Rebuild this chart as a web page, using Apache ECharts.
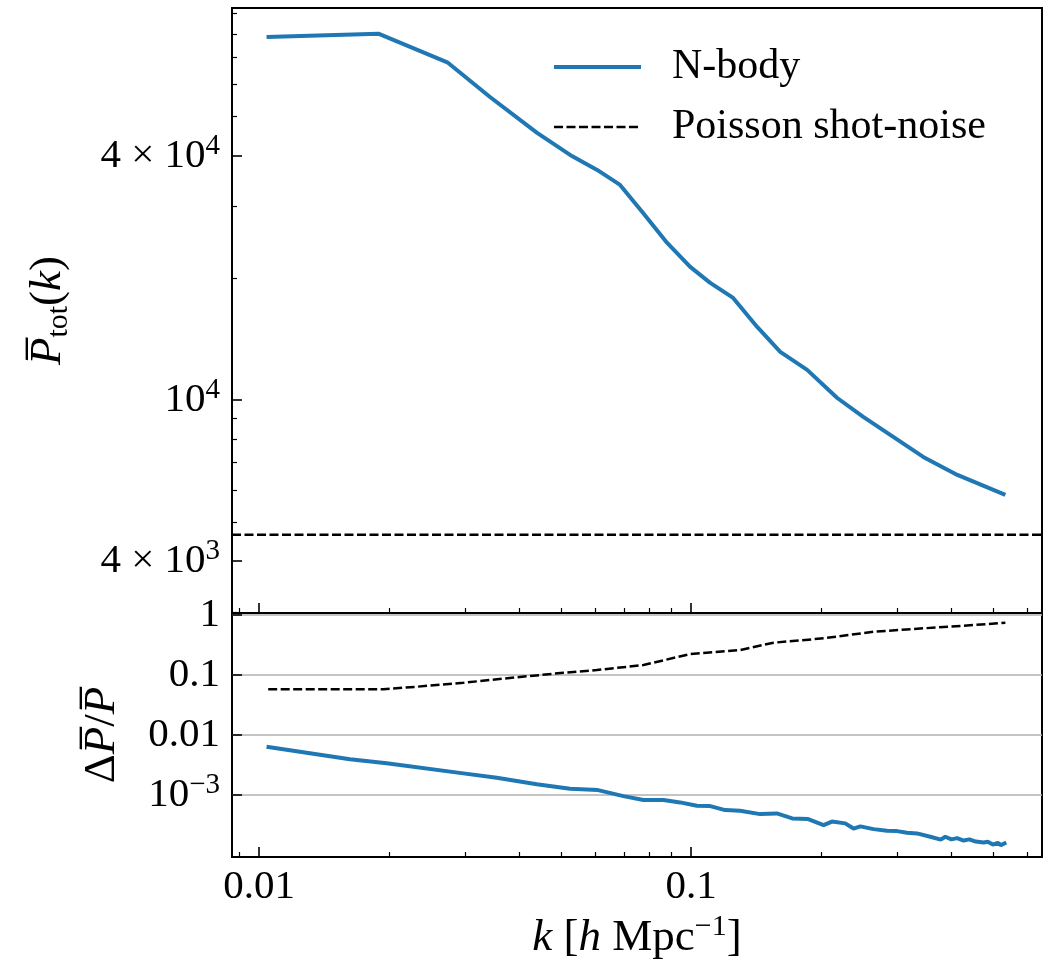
<!DOCTYPE html>
<html>
<head>
<meta charset="utf-8">
<script src="https://cdn.jsdelivr.net/npm/echarts@6/dist/echarts.min.js"></script>
<style>html,body{margin:0;padding:0;background:#fff}#c{width:1055px;height:965px}</style>
</head>
<body>
<div id="c"></div>
<script>
// ---- data ----
const kTop = [0.0104, 0.01887, 0.02726, 0.03422, 0.04399, 0.05245, 0.06058, 0.06846, 0.07741, 0.0880, 0.0995, 0.1107, 0.1251, 0.1422, 0.1608, 0.1856, 0.2179, 0.2503, 0.289, 0.3446, 0.4133, 0.5339];
const pTop = [78600, 80100, 68100, 55900, 45600, 40220, 36940, 33930, 28930, 24400, 21290, 19440, 17850, 15140, 13140, 11860, 10110, 9080, 8195, 7234, 6531, 5830];
const shotLevel = 4650;

const kRelNbody = [0.0104, 0.01622, 0.01973, 0.02969, 0.03548, 0.04391, 0.05245, 0.06088, 0.06969, 0.07754, 0.08627, 0.0943, 0.1031, 0.1107, 0.1199, 0.1298, 0.1445, 0.1579, 0.1714, 0.1866, 0.2026, 0.2118, 0.2274, 0.2376, 0.2464, 0.2644, 0.2841, 0.2996, 0.3161, 0.3333, 0.3578, 0.3784, 0.3876, 0.4003, 0.4126, 0.4274, 0.4406, 0.456, 0.4754, 0.4862, 0.4993, 0.5129, 0.5212, 0.5367];
const relNbody = [6.38e-3, 3.94e-3, 3.38e-3, 2.30e-3, 1.94e-3, 1.51e-3, 1.27e-3, 1.21e-3, 9.62e-4, 8.26e-4, 8.26e-4, 7.55e-4, 6.63e-4, 6.56e-4, 5.62e-4, 5.47e-4, 4.82e-4, 4.95e-4, 4.09e-4, 3.98e-4, 3.16e-4, 3.62e-4, 3.38e-4, 2.77e-4, 3.01e-4, 2.71e-4, 2.54e-4, 2.51e-4, 2.35e-4, 2.30e-4, 2.02e-4, 1.81e-4, 2.02e-4, 1.83e-4, 1.92e-4, 1.75e-4, 1.83e-4, 1.68e-4, 1.62e-4, 1.67e-4, 1.50e-4, 1.60e-4, 1.47e-4, 1.62e-4];

const kRelShot = [0.01049, 0.01937, 0.02315, 0.02969, 0.03947, 0.05061, 0.06046, 0.07754, 0.0995, 0.1298, 0.1551, 0.2026, 0.2644, 0.3452, 0.4508, 0.5339];
const relShot = [0.0578, 0.0578, 0.0638, 0.0744, 0.0916, 0.1092, 0.1211, 0.1468, 0.2239, 0.2610, 0.3455, 0.4090, 0.5270, 0.6000, 0.6813, 0.7443];

// axis ranges and ticks
const xRange = [0.00865, 0.649];
const yTopRange = [2980, 92700];
const yBotRange = [9.3e-5, 1.08];
const xMajor = [0.01, 0.1];
const xMinor = [0.009, 0.02, 0.03, 0.04, 0.05, 0.06, 0.07, 0.08, 0.09, 0.2, 0.3, 0.4, 0.5, 0.6];
const xLabels = ['0.01', '0.1'];
const yTopMajor = [4000, 10000, 40000];
const yTopMinor = [3000, 5000, 6000, 7000, 8000, 9000, 20000, 30000, 50000, 60000, 70000, 80000, 90000];
const yTopLabels = ['{a|4 × 10}{s|3}', '{a|10}{s|4}', '{a|4 × 10}{s|4}'];
const yBotMajor = [1, 0.1, 0.01, 0.001];
const yBotLabels = ['{a|1}', '{a|0.1}', '{a|0.01}', '{a|10}{s|−3}'];

const FONT = 'Liberation Serif';
const BLUE = '#1f77b4';
const DASH = [9, 3.5];

function pickLabel(ticks, labels) {
  return function (v) {
    for (let i = 0; i < ticks.length; i++) {
      if (Math.abs(Math.log10(v) - Math.log10(ticks[i])) < 1e-6) return labels[i];
    }
    return '';
  };
}

const labelRich = {
  a: { fontFamily: FONT, fontSize: 41, color: '#000', lineHeight: 48 },
  s: { fontFamily: FONT, fontSize: 29, color: '#000', lineHeight: 26, verticalAlign: 'top' }
};
const titleRich = {
  i: { fontFamily: FONT, fontStyle: 'italic', fontSize: 45, color: '#000', lineHeight: 52 },
  r: { fontFamily: FONT, fontSize: 45, color: '#000', lineHeight: 52 },
  sub: { fontFamily: FONT, fontSize: 30, color: '#000', lineHeight: 36, verticalAlign: 'bottom' },
  sup: { fontFamily: FONT, fontSize: 30, color: '#000', lineHeight: 28, verticalAlign: 'top' }
};

const grids = [
  { left: 232, right: 13, top: 8, height: 605, show: true, borderColor: '#000', borderWidth: 2, backgroundColor: 'transparent' },
  { left: 232, right: 13, top: 613, height: 244, show: true, borderColor: '#000', borderWidth: 2, backgroundColor: 'transparent' }
];

const xAxes = [
  { gridIndex: 0, type: 'log', min: xRange[0], max: xRange[1], position: 'bottom',
    axisLine: { show: false }, splitLine: { show: false }, axisLabel: { show: false },
    axisTick: { show: true, inside: true, length: 10, customValues: xMajor, lineStyle: { color: '#000', width: 1.6 } } },
  { gridIndex: 0, type: 'log', min: xRange[0], max: xRange[1], position: 'bottom',
    axisLine: { show: false }, splitLine: { show: false }, axisLabel: { show: false },
    axisTick: { show: true, inside: true, length: 5, customValues: xMinor, lineStyle: { color: '#000', width: 1.2 } } },
  { gridIndex: 1, type: 'log', min: xRange[0], max: xRange[1], position: 'bottom',
    axisLine: { show: false }, splitLine: { show: false },
    axisTick: { show: true, inside: true, length: 10, customValues: xMajor, lineStyle: { color: '#000', width: 1.6 } },
    axisLabel: { show: true, customValues: xMajor, margin: 6, formatter: pickLabel(xMajor, xLabels.map(s => '{a|' + s + '}')), rich: labelRich },
    name: '{i|k }{r|[}{i|h }{r|Mpc}{sup|−1}{r|]}', nameLocation: 'middle', nameGap: 55,
    nameTextStyle: { rich: titleRich } },
  { gridIndex: 1, type: 'log', min: xRange[0], max: xRange[1], position: 'bottom',
    axisLine: { show: false }, splitLine: { show: false }, axisLabel: { show: false },
    axisTick: { show: true, inside: true, length: 5, customValues: xMinor, lineStyle: { color: '#000', width: 1.2 } } }
];

const yAxes = [
  { gridIndex: 0, type: 'log', min: yTopRange[0], max: yTopRange[1], position: 'left',
    axisLine: { show: false }, splitLine: { show: false },
    axisTick: { show: true, inside: true, length: 10, customValues: yTopMajor, lineStyle: { color: '#000', width: 1.6 } },
    axisLabel: { show: true, customValues: yTopMajor, margin: 12, formatter: pickLabel(yTopMajor, yTopLabels), rich: labelRich },
    name: '{i|P\u0305}{sub|tot}{r|(}{i|k}{r|)}', nameLocation: 'middle', nameRotate: 90, nameGap: 158,
    nameTextStyle: { rich: titleRich } },
  { gridIndex: 0, type: 'log', min: yTopRange[0], max: yTopRange[1], position: 'left',
    axisLine: { show: false }, splitLine: { show: false }, axisLabel: { show: false },
    axisTick: { show: true, inside: true, length: 5, customValues: yTopMinor, lineStyle: { color: '#000', width: 1.2 } } },
  { gridIndex: 1, type: 'log', min: yBotRange[0], max: yBotRange[1], position: 'left',
    axisLine: { show: false },
    splitLine: { show: true, lineStyle: { color: '#b0b0b0', width: 1.6 } },
    axisTick: { show: true, inside: true, length: 10, customValues: yBotMajor, lineStyle: { color: '#000', width: 1.6 } },
    axisLabel: { show: true, customValues: yBotMajor, margin: 12, formatter: pickLabel(yBotMajor, yBotLabels), rich: labelRich },
    name: '{r|Δ}{i|P\u0305}{r|/}{i|P\u0305}', nameLocation: 'middle', nameRotate: 90, nameGap: 104,
    nameTextStyle: { rich: titleRich } }
];

const zip = (a, b) => a.map((v, i) => [v, b[i]]);

const option = {
  animation: false,
  backgroundColor: '#fff',
  grid: grids,
  xAxis: xAxes,
  yAxis: yAxes,
  legend: {
    orient: 'vertical', left: 547, top: 38,
    itemWidth: 87, itemHeight: 14, itemGap: 12,
    data: [
      { name: 'N-body', lineStyle: { width: 4, color: BLUE } },
      { name: 'Poisson shot-noise', lineStyle: { width: 2.5, color: '#000', type: DASH } }
    ],
    itemStyle: { opacity: 0 },
    textStyle: { fontFamily: FONT, fontSize: 42, color: '#000', lineHeight: 48, padding: [0, 0, 0, 26] }
  },
  series: [
    { name: 'N-body', type: 'line', xAxisIndex: 0, yAxisIndex: 0, data: zip(kTop, pTop),
      symbol: 'none', showSymbol: false, smooth: false, color: BLUE, lineStyle: { color: BLUE, width: 4 }, z: 3 },
    { name: 'Poisson shot-noise', type: 'line', xAxisIndex: 0, yAxisIndex: 0, data: [[xRange[0], shotLevel], [xRange[1], shotLevel]],
      symbol: 'none', showSymbol: false, color: '#000', lineStyle: { color: '#000', width: 2.5, type: DASH }, z: 2 },
    { name: 'N-body', type: 'line', xAxisIndex: 2, yAxisIndex: 2, data: zip(kRelNbody, relNbody),
      symbol: 'none', showSymbol: false, color: BLUE, lineStyle: { color: BLUE, width: 4 }, z: 3 },
    { name: 'Poisson shot-noise', type: 'line', xAxisIndex: 2, yAxisIndex: 2, data: zip(kRelShot, relShot),
      symbol: 'none', showSymbol: false, color: '#000', lineStyle: { color: '#000', width: 2.5, type: DASH }, z: 2 }
  ]
};

const chart = echarts.init(document.getElementById('c'), null, { renderer: 'canvas' });
chart.setOption(option);
</script>
</body>
</html>
